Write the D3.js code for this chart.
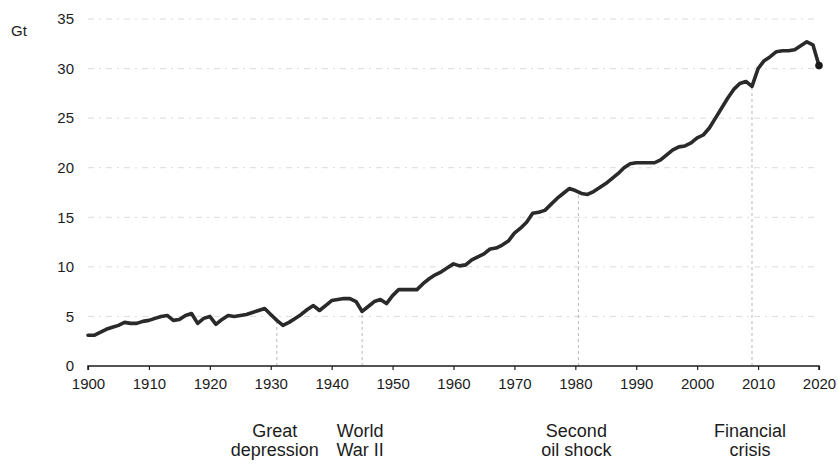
<!DOCTYPE html>
<html>
<head>
<meta charset="utf-8">
<script src="https://cdn.jsdelivr.net/npm/d3@7"></script>
<style>
  html, body { margin: 0; padding: 0; background: #fff; }
  svg { display: block; font-family: "Liberation Sans", Arial, sans-serif; }
</style>
</head>
<body>
<svg id="chart" width="838" height="464"></svg>
<script>
// Global CO2 emissions, Gt per year
const years = d3.range(1900, 2021);
const emissions = [
  3.1, 3.1, 3.4, 3.7, 3.9, 4.1, 4.4, 4.3, 4.3, 4.5,      // 1900s
  4.6, 4.8, 5.0, 5.1, 4.6, 4.7, 5.1, 5.3, 4.3, 4.8,      // 1910s
  5.0, 4.2, 4.7, 5.1, 5.0, 5.1, 5.2, 5.4, 5.6, 5.8,      // 1920s
  5.2, 4.6, 4.1, 4.4, 4.8, 5.2, 5.7, 6.1, 5.6, 6.1,      // 1930s
  6.6, 6.7, 6.8, 6.8, 6.5, 5.5, 6.0, 6.5, 6.7, 6.3,      // 1940s
  7.1, 7.7, 7.7, 7.7, 7.7, 8.3, 8.8, 9.2, 9.5, 9.9,      // 1950s
  10.3, 10.1, 10.2, 10.7, 11.0, 11.3, 11.8, 11.9, 12.2, 12.6, // 1960s
  13.4, 13.9, 14.5, 15.4, 15.5, 15.7, 16.3, 16.9, 17.4, 17.9, // 1970s
  17.7, 17.4, 17.3, 17.6, 18.0, 18.4, 18.9, 19.4, 20.0, 20.4, // 1980s
  20.5, 20.5, 20.5, 20.5, 20.8, 21.3, 21.8, 22.1, 22.2, 22.5, // 1990s
  23.0, 23.3, 24.0, 25.0, 26.0, 27.0, 27.9, 28.5, 28.7, 28.2, // 2000s
  30.0, 30.8, 31.2, 31.7, 31.8, 31.8, 31.9, 32.3, 32.7, 32.4, // 2010s
  30.3                                                    // 2020
];

const xTicks = d3.range(1900, 2021, 10);
const yTicks = [0, 5, 10, 15, 20, 25, 30, 35];
const unitLabel = "Gt";

// Historical events marked under the axis
const eventYears = [1931, 1945, 1980.5, 2009];
const eventLabels = [
  ["Great", "depression"],
  ["World", "War II"],
  ["Second", "oil shock"],
  ["Financial", "crisis"]
];

const data = years.map((y, i) => ({ year: y, value: emissions[i] }));

const svg = d3.select("#chart");
const ink = "#1c1c1c";

const x = d3.scaleLinear().domain([1900, 2020]).range([88, 819]);
const y = d3.scaleLinear().domain([0, 35]).range([366, 19]);

// Faint dashed horizontal gridlines
svg.append("g")
  .selectAll("line")
  .data(yTicks.filter(t => t > 0))
  .join("line")
  .attr("x1", x(1900))
  .attr("x2", x(2020))
  .attr("y1", d => y(d))
  .attr("y2", d => y(d))
  .attr("stroke", "#dcdcdc")
  .attr("stroke-width", 1)
  .attr("stroke-dasharray", "6,5,2,5");

// Dashed event markers from the axis up to the curve
const valueAt = yr => {
  const i = Math.floor(yr) - 1900;
  const f = yr - Math.floor(yr);
  const a = emissions[i], b = emissions[Math.min(i + 1, emissions.length - 1)];
  return a + (b - a) * f;
};
svg.append("g")
  .selectAll("line")
  .data(eventYears)
  .join("line")
  .attr("x1", d => x(d))
  .attr("x2", d => x(d))
  .attr("y1", y(0))
  .attr("y2", d => y(valueAt(d)))
  .attr("stroke", "#b8b8b8")
  .attr("stroke-width", 1)
  .attr("stroke-dasharray", "3,3");

// X axis
const xAxis = d3.axisBottom(x)
  .tickValues(xTicks)
  .tickFormat(d3.format("d"))
  .tickSize(4)
  .tickPadding(8);
const gx = svg.append("g")
  .attr("transform", `translate(0,${y(0)})`)
  .call(xAxis);
gx.select(".domain").attr("stroke", ink).attr("stroke-width", 1.5)
  .attr("d", `M${x(1900)},4V0H${x(2020)}V4`);
gx.selectAll(".tick line").attr("stroke", ink).attr("stroke-width", 1.2);
gx.selectAll(".tick text")
  .attr("fill", ink)
  .style("font-size", "15px")
  .style("font-family", "'Liberation Sans', Arial, sans-serif");

// Y axis labels only
const yAxis = d3.axisLeft(y)
  .tickValues(yTicks)
  .tickFormat(d3.format("d"))
  .tickSize(0)
  .tickPadding(0);
const gy = svg.append("g")
  .attr("transform", "translate(74,0)")
  .call(yAxis);
gy.select(".domain").remove();
gy.selectAll(".tick text")
  .attr("fill", ink)
  .style("font-size", "15px")
  .style("font-family", "'Liberation Sans', Arial, sans-serif");

svg.append("text")
  .attr("x", 11)
  .attr("y", 36)
  .attr("fill", ink)
  .style("font-size", "15px")
  .text(unitLabel);

// Emissions curve
const line = d3.line()
  .x(d => x(d.year))
  .y(d => y(d.value))
  .curve(d3.curveLinear);
svg.append("path")
  .datum(data)
  .attr("d", line)
  .attr("fill", "none")
  .attr("stroke", "#2a2a2a")
  .attr("stroke-width", 3.6)
  .attr("stroke-linejoin", "round")
  .attr("stroke-linecap", "round");

// Latest year dot
const last = data[data.length - 1];
svg.append("circle")
  .attr("cx", x(last.year))
  .attr("cy", y(last.value))
  .attr("r", 3.8)
  .attr("fill", "#1a1a1a");

// Event captions
const cap = svg.append("g")
  .attr("fill", ink)
  .style("font-size", "18px")
  .attr("text-anchor", "middle");
eventYears.forEach((yr, i) => {
  const t = cap.append("text").attr("x", x(yr));
  eventLabels[i].forEach((s, j) => {
    t.append("tspan")
      .attr("x", x(yr) - 2)
      .attr("y", 437 + j * 19)
      .text(s);
  });
});
</script>
</body>
</html>
